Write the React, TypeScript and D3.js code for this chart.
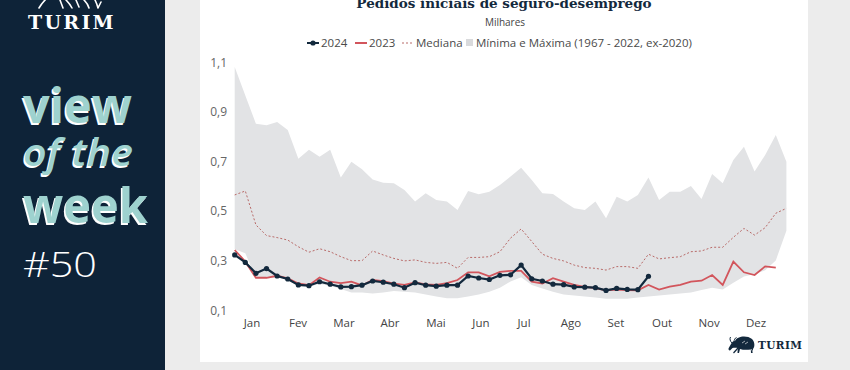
import React from "react";
import * as d3 from "d3";

// semanas 0..52 (índice da semana no ano)
const y2024 = [0.322, 0.292, 0.248, 0.267, 0.237, 0.225, 0.201, 0.198, 0.214, 0.204, 0.193, 0.194, 0.2, 0.217, 0.212, 0.204, 0.19, 0.21, 0.2, 0.196, 0.2, 0.2, 0.237, 0.229, 0.223, 0.24, 0.242, 0.281, 0.226, 0.217, 0.204, 0.202, 0.193, 0.192, 0.19, 0.179, 0.187, 0.183, 0.182, 0.236];

const y2023 = [0.342, 0.295, 0.23, 0.23, 0.238, 0.228, 0.207, 0.2, 0.231, 0.214, 0.208, 0.214, 0.199, 0.221, 0.216, 0.206, 0.201, 0.211, 0.203, 0.201, 0.208, 0.221, 0.252, 0.252, 0.236, 0.254, 0.258, 0.258, 0.214, 0.207, 0.228, 0.214, 0.201, 0.193, 0.188, 0.179, 0.182, 0.18, 0.179, 0.201, 0.182, 0.194, 0.201, 0.214, 0.218, 0.241, 0.201, 0.295, 0.252, 0.241, 0.276, 0.271];

const mediana = [0.564, 0.58, 0.443, 0.4, 0.392, 0.382, 0.355, 0.333, 0.347, 0.335, 0.315, 0.299, 0.299, 0.338, 0.322, 0.308, 0.298, 0.302, 0.292, 0.288, 0.292, 0.268, 0.312, 0.312, 0.315, 0.335, 0.39, 0.427, 0.376, 0.325, 0.308, 0.298, 0.281, 0.271, 0.268, 0.261, 0.275, 0.275, 0.268, 0.325, 0.306, 0.311, 0.315, 0.335, 0.338, 0.353, 0.353, 0.393, 0.429, 0.402, 0.432, 0.49, 0.51];

const maxima = [1.08, 0.965, 0.851, 0.845, 0.858, 0.826, 0.71, 0.746, 0.718, 0.746, 0.634, 0.698, 0.668, 0.626, 0.613, 0.611, 0.584, 0.537, 0.571, 0.544, 0.537, 0.503, 0.58, 0.567, 0.577, 0.604, 0.638, 0.674, 0.624, 0.571, 0.568, 0.537, 0.51, 0.503, 0.537, 0.47, 0.557, 0.537, 0.564, 0.634, 0.544, 0.577, 0.577, 0.6, 0.548, 0.648, 0.611, 0.705, 0.758, 0.658, 0.725, 0.806, 0.698];

const minima = [0.345, 0.329, 0.228, 0.228, 0.232, 0.22, 0.197, 0.195, 0.205, 0.198, 0.185, 0.171, 0.171, 0.167, 0.171, 0.177, 0.174, 0.171, 0.163, 0.154, 0.147, 0.147, 0.154, 0.163, 0.174, 0.19, 0.215, 0.232, 0.201, 0.187, 0.174, 0.163, 0.158, 0.154, 0.15, 0.145, 0.145, 0.145, 0.15, 0.154, 0.158, 0.163, 0.167, 0.171, 0.181, 0.19, 0.183, 0.21, 0.235, 0.245, 0.26, 0.3, 0.42];

const meses = ["Jan", "Fev", "Mar", "Abr", "Mai", "Jun", "Jul", "Ago", "Set", "Out", "Nov", "Dez"];
const mesSemana = [1.63, 5.97, 10.3, 14.63, 18.97, 23.21, 27.27, 31.7, 35.94, 40.28, 44.71, 49.14];
const yTicks = [0.1, 0.3, 0.5, 0.7, 0.9, 1.1];

const NAVY = "#13293d";
const RED = "#d2555c";
const MED = "#b86a68";
const AREA = "#e2e3e5";
const TEAL = "#9ed2cf";
const SANS = "'Open Sans', sans-serif";
const SERIF = "'DejaVu Serif', serif";

const Bull = ({ x, y, fill }) => (
  <g transform={`translate(${x},${y})`}>
    <path
      d="M8,6 C10,1 20,0 25,4 C28,7 28,12 26,14 L25.5,18 L24,18 L23.8,14.5 C20,15 16,15 13,14 L12,18 L10.5,18 L10.8,13 C9,12.5 7,12.5 5.5,13 L3,15.5 C1.5,15.5 1,14 2,12.5 L4,9 C5,7 6,6 8,6 Z"
      fill={fill}
    />
    <path d="M5,8 C3,6 2.5,4 3.5,2 M7,7 C7,5 8,3 9.5,2.5" stroke={fill} strokeWidth={1} fill="none" />
    <path d="M11,13 L7,18 M24,14 L27,18 M15,8 L18,6 M18,9 L21,7" stroke={fill === NAVY ? "#ffffff" : fill} strokeWidth={0.6} fill="none" />
    <path d="M11,13 L6.5,18" stroke={fill} strokeWidth={1.2} fill="none" />
  </g>
);

export default function App() {
  const x = d3.scaleLinear().domain([0, 52]).range([234.7, 786.4]);
  const y = d3.scaleLinear().domain([0.1, 1.1]).range([310, 62]);

  const area = d3
    .area<number>()
    .x((d, i) => x(i))
    .y0((d, i) => y(minima[i]))
    .y1((d) => y(d));
  const line = d3
    .line<number>()
    .x((d, i) => x(i))
    .y((d) => y(d));

  const fmt = (v) => d3.format(".1f")(v).replace(".", ",");

  return (
    <svg
      width={850}
      height={370}
      style={{ position: "absolute", left: 0, top: 0 }}
      fontFamily={SANS}
    >
      {/* fundo */}
      <rect x={0} y={0} width={850} height={370} fill="#ececec" />
      <rect x={0} y={0} width={165} height={370} fill="#0e2338" />
      <rect x={200} y={-10} width={608} height={372} fill="#ffffff" />

      {/* painel esquerdo */}
      <g stroke="#ffffff" strokeWidth={1.6} fill="none" strokeLinecap="round">
        <path d="M39,8 Q42,3 46,-1" />
        <path d="M60,0 L63,8 M66,0 Q70,4 72,8 M76,0 L79,7 M84,0 Q88,4 89,8 M95,0 Q97,4 98,8 M101,2 L98,8" />
      </g>
      <text x={28} y={29} fill="#ffffff" fontFamily={SERIF} fontWeight="bold" fontSize={19} letterSpacing={2.3}>
        TURIM
      </text>
      {[
        { t: "view", yy: 123, w: 109, it: false },
        { t: "of the", yy: 166, w: 110, it: true },
        { t: "week", yy: 223, w: 125, it: false },
      ].map((d) => (
        <g key={d.t} fontSize={d.it ? 37 : 49} fontWeight={d.it ? 600 : 700} fontStyle={d.it ? "italic" : "normal"}>
          <text x={21.5} y={d.yy + 1.5} fill="#ffffff" textLength={d.w} lengthAdjust="spacingAndGlyphs">
            {d.t}
          </text>
          <text x={23} y={d.yy} fill={TEAL} textLength={d.w} lengthAdjust="spacingAndGlyphs">
            {d.t}
          </text>
        </g>
      ))}
      <text x={23} y={277} fill="#ffffff" fontSize={35} fontWeight={300} textLength={74} lengthAdjust="spacingAndGlyphs">
        #50
      </text>

      {/* títulos */}
      <text x={504} y={8} textAnchor="middle" fill={NAVY} fontFamily={SERIF} fontWeight="bold" fontSize={13.5}>
        Pedidos iniciais de seguro-desemprego
      </text>
      <text x={505} y={26} textAnchor="middle" fill="#444" fontSize={10}>
        Milhares
      </text>

      {/* legenda */}
      <g fontSize={11.5} fill="#4a4a4a">
        <line x1={307} x2={319} y1={43} y2={43} stroke={NAVY} strokeWidth={2} />
        <circle cx={313} cy={43} r={2.6} fill={NAVY} />
        <text x={321} y={47}>2024</text>
        <line x1={355} x2={367} y1={43} y2={43} stroke={RED} strokeWidth={2} />
        <text x={369} y={47}>2023</text>
        <line x1={402} x2={414} y1={43} y2={43} stroke={MED} strokeWidth={1} strokeDasharray="2,2" />
        <text x={416} y={47}>Mediana</text>
        <rect x={466} y={39} width={7} height={7} fill="#d9dadc" />
        <text x={476} y={47}>Mínima e Máxima (1967 - 2022, ex-2020)</text>
      </g>

      {/* área mínima-máxima */}
      <path d={area(maxima)} fill={AREA} />
      <path d={line(mediana)} fill="none" stroke={MED} strokeWidth={1} strokeDasharray="2,2" />
      <path d={line(y2023)} fill="none" stroke={RED} strokeWidth={1.8} />
      <path d={line(y2024)} fill="none" stroke={NAVY} strokeWidth={2.2} />
      {y2024.map((d, i) => (
        <circle key={i} cx={x(i)} cy={y(d)} r={2.6} fill={NAVY} />
      ))}

      {/* eixos */}
      <g fontSize={12} fill="#666">
        {yTicks.map((t) => (
          <text key={t} x={227} y={y(t)} textAnchor="end" dominantBaseline="central">
            {fmt(t)}
          </text>
        ))}
      </g>
      <g fontSize={11.5} fill="#444">
        {meses.map((m, i) => (
          <text key={m} x={x(mesSemana[i])} y={327} textAnchor="middle">
            {m}
          </text>
        ))}
      </g>

      {/* logo */}
      <Bull x={727} y={335} fill={NAVY} />
      <text x={758} y={348.5} fill={NAVY} fontFamily={SERIF} fontWeight="bold" fontSize={10.5} letterSpacing={0.4}>
        TURIM
      </text>
    </svg>
  );
}
